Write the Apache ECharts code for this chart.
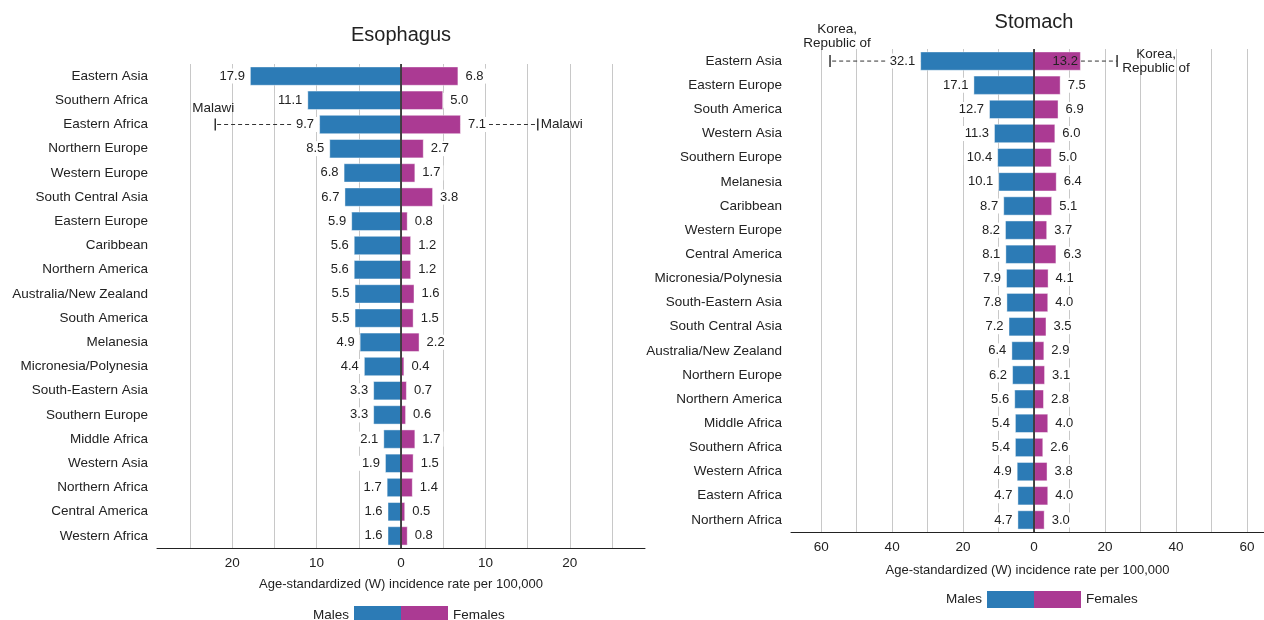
<!DOCTYPE html>
<html>
<head>
<meta charset="utf-8">
<title>Esophagus and stomach cancer incidence by region</title>
<script src="https://cdn.jsdelivr.net/npm/echarts@6/dist/echarts.min.js"></script>
<style>
  html, body { margin: 0; padding: 0; background: #fff; }
  #chart { width: 1264px; height: 620px; }
</style>
</head>
<body>
<div id="chart"></div>
<script>
// Age-standardized (W) incidence rates per 100,000, by world region
const esoCategories = [
  'Eastern Asia', 'Southern Africa', 'Eastern Africa', 'Northern Europe', 'Western Europe',
  'South Central Asia', 'Eastern Europe', 'Caribbean', 'Northern America', 'Australia/New Zealand',
  'South America', 'Melanesia', 'Micronesia/Polynesia', 'South-Eastern Asia', 'Southern Europe',
  'Middle Africa', 'Western Asia', 'Northern Africa', 'Central America', 'Western Africa'
];
const esoMales = [17.9, 11.1, 9.7, 8.5, 6.8, 6.7, 5.9, 5.6, 5.6, 5.5, 5.5, 4.9, 4.4, 3.3, 3.3, 2.1, 1.9, 1.7, 1.6, 1.6];
const esoFemales = [6.8, 5.0, 7.1, 2.7, 1.7, 3.8, 0.8, 1.2, 1.2, 1.6, 1.5, 2.2, 0.4, 0.7, 0.6, 1.7, 1.5, 1.4, 0.5, 0.8];
// highest country rate within a region
const esoNotes = [
  { category: 'Eastern Africa', sex: 'Males', rate: 22.0, country: 'Malawi' },
  { category: 'Eastern Africa', sex: 'Females', rate: 16.2, country: 'Malawi' }
];

const stoCategories = [
  'Eastern Asia', 'Eastern Europe', 'South America', 'Western Asia', 'Southern Europe',
  'Melanesia', 'Caribbean', 'Western Europe', 'Central America', 'Micronesia/Polynesia',
  'South-Eastern Asia', 'South Central Asia', 'Australia/New Zealand', 'Northern Europe', 'Northern America',
  'Middle Africa', 'Southern Africa', 'Western Africa', 'Eastern Africa', 'Northern Africa'
];
const stoMales = [32.1, 17.1, 12.7, 11.3, 10.4, 10.1, 8.7, 8.2, 8.1, 7.9, 7.8, 7.2, 6.4, 6.2, 5.6, 5.4, 5.4, 4.9, 4.7, 4.7];
const stoFemales = [13.2, 7.5, 6.9, 6.0, 5.0, 6.4, 5.1, 3.7, 6.3, 4.1, 4.0, 3.5, 2.9, 3.1, 2.8, 4.0, 2.6, 3.8, 4.0, 3.0];
const stoNotes = [
  { category: 'Eastern Asia', sex: 'Males', rate: 57.5, country: 'Korea,\nRepublic of' },
  { category: 'Eastern Asia', sex: 'Females', rate: 23.4, country: 'Korea,\nRepublic of' }
];

// axis ticks (gridlines) and labelled ticks
const esoGridTicks = [-25, -20, -15, -10, -5, 0, 5, 10, 15, 20, 25];
const esoTickLabels = [-20, -10, 0, 10, 20];
const stoGridTicks = [-60, -50, -40, -30, -20, -10, 0, 10, 20, 30, 40, 50, 60];
const stoTickLabels = [-60, -40, -20, 0, 20, 40, 60];

const BLUE = '#2c7bb6';
const MAGENTA = '#ab3a93';
const TEXT = '#222';
const FONT = '"Liberation Sans", Arial, Helvetica, sans-serif';

function valueLabel(side) {
  return {
    show: true,
    position: side === 'Males' ? 'left' : 'right',
    distance: 0,
    padding: side === 'Males' ? [1, 5, 1, 3] : [1, 3, 1, 7],
    backgroundColor: '#fff',
    color: TEXT,
    fontSize: 13,
    fontFamily: FONT,
    formatter: p => Math.abs(p.value).toFixed(1)
  };
}

function xAxisFor(gridIndex, min, max, gridTicks, tickLabels) {
  return {
    type: 'value', gridIndex, min, max,
    name: 'Age-standardized (W) incidence rate per 100,000',
    nameLocation: 'middle',
    nameGap: gridIndex === 0 ? 30 : 32,
    nameTextStyle: { color: TEXT, fontSize: 13, fontFamily: FONT },
    axisLine: { show: true, onZero: false, lineStyle: { color: '#222', width: 1 } },
    axisTick: { show: false, customValues: gridTicks },
    axisLabel: {
      customValues: tickLabels, margin: 8, color: TEXT, fontSize: 13.5, fontFamily: FONT,
      formatter: v => String(Math.abs(v))
    },
    splitLine: { show: true, lineStyle: { color: '#c8c8c8', width: 1 } }
  };
}

function yAxisFor(gridIndex, categories) {
  return {
    type: 'category', gridIndex, data: categories, inverse: true,
    axisLine: { show: false }, axisTick: { show: false },
    axisLabel: { margin: 9, color: TEXT, fontSize: 13.5, fontFamily: FONT },
    splitLine: { show: false }
  };
}

function barSeries(idx, side, values, notes, categories, noteLabelInside) {
  const sign = side === 'Males' ? -1 : 1;
  return {
    type: 'bar', name: side, xAxisIndex: idx, yAxisIndex: idx,
    barWidth: '80%', barGap: '-100%', z: 2,
    itemStyle: { color: side === 'Males' ? BLUE : MAGENTA, borderColor: 'rgba(255,255,255,0.45)', borderWidth: 1 },
    label: valueLabel(side),
    data: values.map((v, i) => {
      const item = { value: sign * v };
      if (noteLabelInside && notes.some(n => n.sex === side && n.category === categories[i])) {
        item.label = { position: 'insideRight', distance: 3, padding: 0, backgroundColor: 'transparent' };
      }
      return item;
    }),
    markLine: side === 'Males' ? {
      silent: true, symbol: 'none', label: { show: false },
      lineStyle: { color: '#111', type: 'solid', width: 1.5 },
      data: [{ xAxis: 0 }]
    } : undefined
  };
}

// dashed leader from a regional bar out to the highest national rate
function noteSeries(idx, notes, categories, maleValues, femaleValues, textMode) {
  return {
    type: 'custom', xAxisIndex: idx, yAxisIndex: idx, z: 1, silent: true,
    data: notes.map(n => {
      const ci = categories.indexOf(n.category);
      const sign = n.sex === 'Males' ? -1 : 1;
      const bar = (n.sex === 'Males' ? maleValues : femaleValues)[ci];
      return [sign * bar, sign * n.rate, ci];
    }),
    renderItem: (params, api) => {
      const note = notes[params.dataIndex];
      const p0 = api.coord([api.value(0), api.value(2)]);
      const p1 = api.coord([api.value(1), api.value(2)]);
      const left = note.sex === 'Males';
      const textStyle = { text: note.country, fill: TEXT, fontSize: 13.5, fontFamily: FONT, lineHeight: 14 };
      let tx, ty, align, vAlign;
      if (left) {
        tx = p1[0] + (textMode === 'eso' ? -2 : 7);
        ty = p1[1] - (textMode === 'eso' ? 9 : 11);
        align = 'center'; vAlign = 'bottom';
      } else {
        tx = p1[0] + (textMode === 'eso' ? 3 : 39);
        ty = p1[1];
        align = textMode === 'eso' ? 'left' : 'center'; vAlign = 'middle';
      }
      return {
        type: 'group',
        children: [
          { type: 'line', shape: { x1: p0[0], y1: p0[1], x2: p1[0], y2: p1[1] },
            style: { stroke: '#333', lineWidth: 1, lineDash: [4, 3] } },
          { type: 'line', shape: { x1: p1[0], y1: p1[1] - 6, x2: p1[0], y2: p1[1] + 6 },
            style: { stroke: '#333', lineWidth: 1.5 } },
          { type: 'text', x: tx, y: ty,
            style: Object.assign(textStyle, { align, verticalAlign: vAlign }) }
        ]
      };
    }
  };
}

function legendItem(name, anchorX, top, itemHeight) {
  const males = name === 'Males';
  return {
    data: [name], padding: 0, top, icon: 'rect', itemWidth: 47, itemHeight,
    align: males ? 'right' : 'left',
    left: males ? undefined : anchorX,
    right: males ? 1264 - anchorX : undefined,
    selectedMode: false,
    itemStyle: { borderWidth: 0 },
    textStyle: { color: TEXT, fontSize: 13.5, fontFamily: FONT }
  };
}

const chart = echarts.init(document.getElementById('chart'), null, { renderer: 'canvas' });
chart.setOption({
  animation: false,
  backgroundColor: '#fff',
  title: [
    { text: 'Esophagus', left: 396, top: 20, textAlign: 'center',
      textStyle: { color: TEXT, fontSize: 20, fontWeight: 'normal', fontFamily: FONT } },
    { text: 'Stomach', left: 1029, top: 7, textAlign: 'center',
      textStyle: { color: TEXT, fontSize: 20, fontWeight: 'normal', fontFamily: FONT } }
  ],
  legend: [
    legendItem('Males', 401, 606, 18),
    legendItem('Females', 401, 606, 18),
    legendItem('Males', 1034, 591, 17),
    legendItem('Females', 1034, 591, 17)
  ],
  grid: [
    { left: 157, top: 64, width: 488, height: 484, containLabel: false },
    { left: 791, top: 49, width: 473, height: 483, containLabel: false }
  ],
  xAxis: [
    xAxisFor(0, -28.9, 28.9, esoGridTicks, esoTickLabels),
    xAxisFor(1, -68.5, 64.8, stoGridTicks, stoTickLabels)
  ],
  yAxis: [
    yAxisFor(0, esoCategories),
    yAxisFor(1, stoCategories)
  ],
  series: [
    noteSeries(0, esoNotes, esoCategories, esoMales, esoFemales, 'eso'),
    barSeries(0, 'Males', esoMales, esoNotes, esoCategories, false),
    barSeries(0, 'Females', esoFemales, esoNotes, esoCategories, false),
    noteSeries(1, stoNotes, stoCategories, stoMales, stoFemales, 'sto'),
    barSeries(1, 'Males', stoMales, stoNotes, stoCategories, false),
    barSeries(1, 'Females', stoFemales, stoNotes, stoCategories, true)
  ]
});
</script>
</body>
</html>
